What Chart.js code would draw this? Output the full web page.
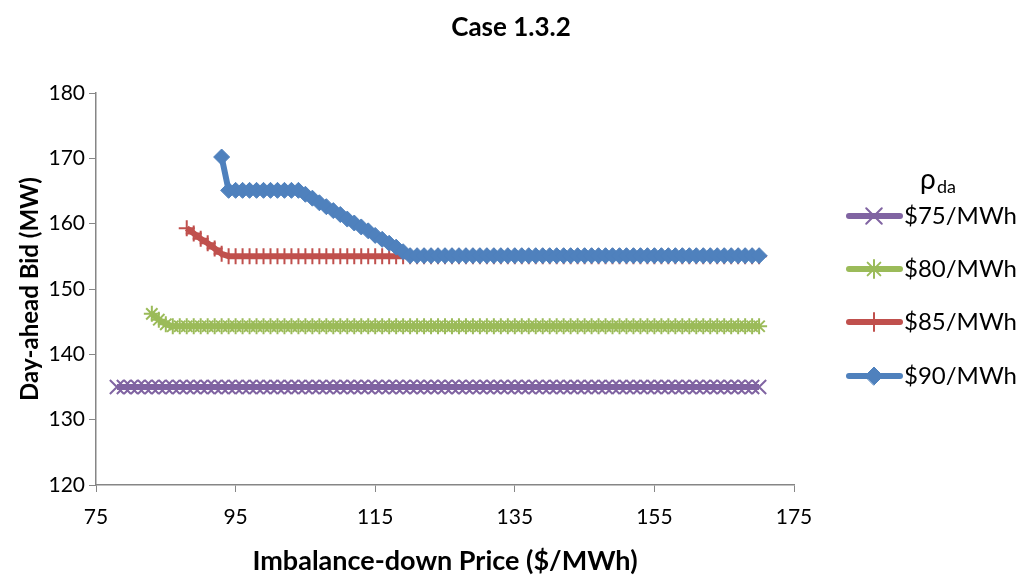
<!DOCTYPE html>
<html>
<head>
<meta charset="utf-8">
<script src="https://cdn.jsdelivr.net/npm/chart.js@4/dist/chart.umd.min.js"></script>
<style>
  body { margin: 0; background: #fff; }
  #wrap { width: 1023px; height: 577px; }
</style>
</head>
<body>
<div id="wrap"><canvas id="chart" width="1023" height="577"></canvas></div>
<script>
// imbalance-down price grid ($/MWh)
const prices = [
  78, 79, 80, 81, 82, 83, 84, 85, 86, 87, 88, 89, 90, 91, 92, 93, 94, 95, 96, 97,
  98, 99, 100, 101, 102, 103, 104, 105, 106, 107, 108, 109, 110, 111, 112, 113, 114, 115, 116, 117,
  118, 119, 120, 121, 122, 123, 124, 125, 126, 127, 128, 129, 130, 131, 132, 133, 134, 135, 136, 137,
  138, 139, 140, 141, 142, 143, 144, 145, 146, 147, 148, 149, 150, 151, 152, 153, 154, 155, 156, 157,
  158, 159, 160, 161, 162, 163, 164, 165, 166, 167, 168, 169, 170
];

// day-ahead bids (MW) per rho_da, null where no bid is computed
const bid75 = [
  135, 135, 135, 135, 135, 135, 135, 135, 135, 135, 135, 135, 135, 135, 135, 135, 135, 135, 135, 135,
  135, 135, 135, 135, 135, 135, 135, 135, 135, 135, 135, 135, 135, 135, 135, 135, 135, 135, 135, 135,
  135, 135, 135, 135, 135, 135, 135, 135, 135, 135, 135, 135, 135, 135, 135, 135, 135, 135, 135, 135,
  135, 135, 135, 135, 135, 135, 135, 135, 135, 135, 135, 135, 135, 135, 135, 135, 135, 135, 135, 135,
  135, 135, 135, 135, 135, 135, 135, 135, 135, 135, 135, 135, 135
];
const bid80 = [
  null, null, null, null, null, 146.2, 145.3, 144.6, 144.3, 144.3, 144.3, 144.3, 144.3, 144.3, 144.3, 144.3, 144.3, 144.3, 144.3, 144.3,
  144.3, 144.3, 144.3, 144.3, 144.3, 144.3, 144.3, 144.3, 144.3, 144.3, 144.3, 144.3, 144.3, 144.3, 144.3, 144.3, 144.3, 144.3, 144.3, 144.3,
  144.3, 144.3, 144.3, 144.3, 144.3, 144.3, 144.3, 144.3, 144.3, 144.3, 144.3, 144.3, 144.3, 144.3, 144.3, 144.3, 144.3, 144.3, 144.3, 144.3,
  144.3, 144.3, 144.3, 144.3, 144.3, 144.3, 144.3, 144.3, 144.3, 144.3, 144.3, 144.3, 144.3, 144.3, 144.3, 144.3, 144.3, 144.3, 144.3, 144.3,
  144.3, 144.3, 144.3, 144.3, 144.3, 144.3, 144.3, 144.3, 144.3, 144.3, 144.3, 144.3, 144.3
];
const bid85 = [
  null, null, null, null, null, null, null, null, null, null, 159.3, 158.5, 157.7, 157.0, 156.2, 155.4, 155, 155, 155, 155,
  155, 155, 155, 155, 155, 155, 155, 155, 155, 155, 155, 155, 155, 155, 155, 155, 155, 155, 155, 155,
  155, 155, 155, 155, 155, 155, 155, 155, 155, 155, 155, 155, 155, 155, 155, 155, 155, 155, 155, 155,
  155, 155, 155, 155, 155, 155, 155, 155, 155, 155, 155, 155, 155, 155, 155, 155, 155, 155, 155, 155,
  155, 155, 155, 155, 155, 155, 155, 155, 155, 155, 155, 155, 155
];
const bid90 = [
  null, null, null, null, null, null, null, null, null, null, null, null, null, null, null, 170.2, 165.1, 165.1, 165.1, 165.1,
  165.1, 165.1, 165.1, 165.1, 165.1, 165.1, 165.1, 164.5, 163.9, 163.2, 162.6, 162.0, 161.4, 160.7, 160.1, 159.5, 158.9, 158.2, 157.6, 157.0,
  156.4, 155.7, 155.1, 155.1, 155.1, 155.1, 155.1, 155.1, 155.1, 155.1, 155.1, 155.1, 155.1, 155.1, 155.1, 155.1, 155.1, 155.1, 155.1, 155.1,
  155.1, 155.1, 155.1, 155.1, 155.1, 155.1, 155.1, 155.1, 155.1, 155.1, 155.1, 155.1, 155.1, 155.1, 155.1, 155.1, 155.1, 155.1, 155.1, 155.1,
  155.1, 155.1, 155.1, 155.1, 155.1, 155.1, 155.1, 155.1, 155.1, 155.1, 155.1, 155.1, 155.1
];

const seriesLabels = ['$75/MWh', '$80/MWh', '$85/MWh', '$90/MWh'];
const seriesColors = ['#8064A2', '#9BBB59', '#C0504D', '#4F81BD'];
const seriesMarkers = ['crossRot', 'star', 'cross', 'rectRot'];
const markerSizes = [10, 8, 8, 8];
const xTicks = [75, 95, 115, 135, 155, 175];
const yTicks = [120, 130, 140, 150, 160, 170, 180];

const FONT = 'Lato, "Open Sans", sans-serif';
const AXIS_GREY = '#868686';

// pair the price grid with a bid column, skipping empty cells
function toPoints(bids) {
  const pts = [];
  prices.forEach((p, i) => {
    if (bids[i] !== null) pts.push({x: p, y: bids[i]});
  });
  return pts;
}

const allBids = [bid75, bid80, bid85, bid90];
const datasets = allBids.map((bids, i) => ({
  label: seriesLabels[i],
  data: toPoints(bids),
  showLine: true,
  borderColor: seriesColors[i],
  backgroundColor: seriesColors[i],
  borderWidth: 6,
  pointStyle: seriesMarkers[i],
  pointRadius: markerSizes[i],
  pointBorderWidth: seriesMarkers[i] === 'rectRot' ? 1 : 2,
  pointBorderColor: seriesColors[i],
  pointBackgroundColor: seriesColors[i],
  order: allBids.length - i   // later series on top
}));

// chart heading plus the legend on the right with the rho_da heading
const sideText = {
  id: 'sideText',
  afterDraw(chart) {
    const ctx = chart.ctx;
    ctx.save();
    ctx.fillStyle = '#000';
    ctx.textAlign = 'center';
    ctx.textBaseline = 'middle';
    ctx.font = 'bold 26px ' + FONT;
    ctx.fillText('Case 1.3.2', 511, 28);

    ctx.textAlign = 'left';
    ctx.textBaseline = 'alphabetic';
    ctx.font = '28px ' + FONT;
    ctx.fillText('ρ', 920, 189);
    ctx.font = '18px ' + FONT;
    ctx.fillText('da', 937, 193);

    const rowY = [216, 269, 322, 376];
    chart.data.datasets.forEach((ds, i) => {
      const y = rowY[i];
      ctx.strokeStyle = ds.borderColor;
      ctx.lineWidth = 6;
      ctx.lineCap = 'round';
      ctx.beginPath();
      ctx.moveTo(849, y);
      ctx.lineTo(900, y);
      ctx.stroke();
      ctx.fillStyle = ds.pointBackgroundColor;
      ctx.lineWidth = ds.pointBorderWidth;
      Chart.helpers.drawPoint(ctx, {pointStyle: ds.pointStyle, radius: ds.pointRadius + 1, rotation: 0, borderWidth: ds.pointBorderWidth}, 874, y);
      ctx.fillStyle = '#000';
      ctx.font = '24px ' + FONT;
      ctx.textBaseline = 'middle';
      ctx.fillText(ds.label, 904, y);
    });
    ctx.restore();
  }
};

new Chart(document.getElementById('chart'), {
  type: 'scatter',
  data: {datasets},
  options: {
    responsive: false,
    animation: false,
    layout: {padding: {left: 0, right: 229, top: 93, bottom: 0}},
    plugins: {
      legend: {display: false},
      tooltip: {enabled: false},
      title: {display: false}
    },
    scales: {
      x: {
        type: 'linear',
        min: xTicks[0],
        max: xTicks[xTicks.length - 1],
        afterBuildTicks: s => { s.ticks = xTicks.map(v => ({value: v})); },
        afterFit: s => { s.height = 92; },
        ticks: {color: '#000', font: {family: FONT, size: 21}, padding: 13, maxRotation: 0},
        grid: {drawOnChartArea: false, drawTicks: true, tickLength: 7, color: AXIS_GREY},
        border: {color: AXIS_GREY, width: 1.5},
        title: {
          display: true,
          text: 'Imbalance-down Price ($/MWh)',
          color: '#000',
          font: {family: FONT, size: 27, weight: 'bold', lineHeight: 1.2},
          padding: {top: 0, bottom: 0}
        }
      },
      y: {
        type: 'linear',
        min: yTicks[0],
        max: yTicks[yTicks.length - 1],
        afterBuildTicks: s => { s.ticks = yTicks.map(v => ({value: v})); },
        afterFit: s => { s.width = 96; },
        ticks: {color: '#000', font: {family: FONT, size: 21}, padding: 4},
        grid: {drawOnChartArea: false, drawTicks: true, tickLength: 7, color: AXIS_GREY},
        border: {color: AXIS_GREY, width: 1.5},
        title: {
          display: true,
          text: 'Day-ahead Bid (MW)',
          color: '#000',
          font: {family: FONT, size: 24, weight: 'bold', lineHeight: 1.2},
          padding: {top: 16, bottom: 0}
        }
      }
    }
  },
  plugins: [sideText]
});
</script>
</body>
</html>
